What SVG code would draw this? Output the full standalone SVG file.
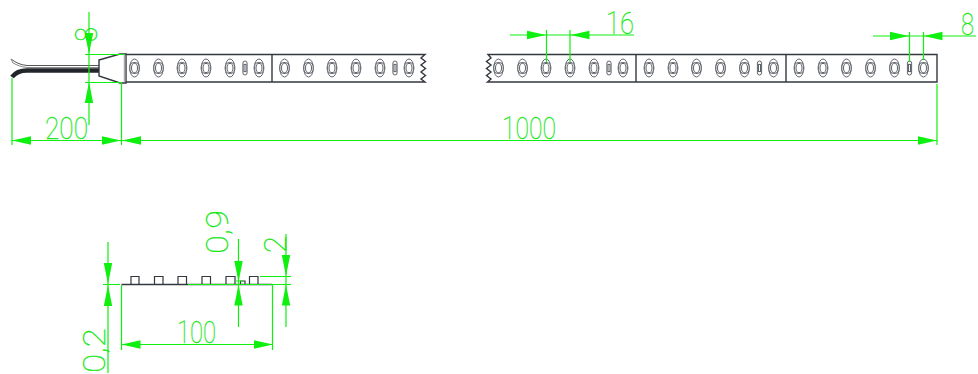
<svg xmlns="http://www.w3.org/2000/svg" xmlns:xlink="http://www.w3.org/1999/xlink" width="978" height="374" viewBox="0 0 978 374">
<style>
.s{fill:none;stroke:#33383e;stroke-width:1.4}
.l{fill:#fff;stroke:#5f646a;stroke-width:1}
.d{fill:none;stroke:#10f010;stroke-width:1.2}
.a{fill:#10f010;stroke:none}
text{font-family:"Roboto","DejaVu Sans",sans-serif;font-weight:100;fill:#10e810;stroke:#10e810;stroke-width:.3}
</style>
<defs>
<g id="led"><ellipse class="l" cx="0" cy="0" rx="4.800" ry="9"/><rect class="l" x="-4.600" y="-5.500" width="9.200" height="11" rx="3.800"/><ellipse class="l" cx="0" cy="0" rx="3" ry="4.600"/></g>
<g id="sm"><rect class="l" x="-2.100" y="-7" width="4.200" height="14" rx="2.100"/><rect class="l" x="-1" y="-3.600" width="2" height="7.200"/></g>
<g id="seg"><use xlink:href="#led" x="0"/><use xlink:href="#led" x="24"/><use xlink:href="#led" x="47.500"/><use xlink:href="#led" x="71.500"/><use xlink:href="#led" x="95.500"/><use xlink:href="#sm" x="110.500"/><use xlink:href="#led" x="124.500"/></g>
<path id="ah" class="a" d="M0 0L-19-4.200V4.200Z"/>
</defs>
<g id="cable">
<path d="M11 59C15 62 20 65 27 65.500H99" fill="none" stroke="#555" stroke-width="1"/>
<path d="M11 59L13 63C17 65 21 67 27 67.500H99" fill="none" stroke="#8a8a8a" stroke-width="1"/>
<path d="M99 70.500H27C20 70.500 15 73 12 77" fill="none" stroke="#22262b" stroke-width="4.500"/>
<path class="s" d="M99 60L120 54H126V83H120L99 76Z" style="fill:#fff"/>
<path d="M124.500 55V82" stroke="#aaa" stroke-width="1.500"/>
</g>
<g id="strip-left">
<path class="s" d="M126 54.500H425L421 58 425.500 61.500 421 65 425.500 68.500 421 72 425.500 75.500 421 79 425 82H126"/>
<path class="s" d="M272 54.500V82"/>
<use xlink:href="#seg" x="134.500" y="68"/><use xlink:href="#seg" x="284.500" y="68"/>
</g>
<g id="strip-right">
<path class="s" d="M937 54.500H488L491 58 486.500 61.500 491 65 486.500 68.500 491 72 486.500 75.500 491 79 487.500 82H937Z"/>
<path class="s" d="M636 54.500V82M786 54.500V82"/>
<use xlink:href="#seg" x="498.500" y="68"/><use xlink:href="#seg" x="649" y="68"/><use xlink:href="#seg" x="799" y="68"/>
</g>
<g id="profile">
<path class="s" d="M121.500 284.500H272"/>
<path class="s" style="stroke-width:1.200" d="M131 284V276.500H139V284M154.500 284V276.500H163V284M178 284V276.500H186.500V284M202 284V276.500H210.500V284M226 284V276.500H235V284M240.500 284V281H245V284M249.500 284V276.500H258V284"/>
</g>
<g id="connectors">
<path class="d" d="M89 12V125M85 54.500H125M85 82.500H122M12 78V145M121.500 83V145M937 84V145M12 140.500H937"/>
<path class="d" d="M510 35H634M546.500 30V62M570 30V62M873 36H976M909.500 32V62M923.500 32V60"/>
<path class="d" d="M108 242V373M103 284.500H120M238.500 239V327M235 281H243M286 234V327M260 276.500H291M272 284.500H291M121.500 285V350M272.500 285V350M121.500 344.500H273M188 284.500H272"/>
<use xlink:href="#ah" transform="translate(89 54) rotate(90) scale(1.100 1)"/>
<use xlink:href="#ah" transform="translate(89 82) rotate(-90) scale(1.100 1)"/>
<use xlink:href="#ah" transform="translate(12 140.500) rotate(180)"/>
<use xlink:href="#ah" transform="translate(121 140.500)"/>
<use xlink:href="#ah" transform="translate(122 140.500) rotate(180)"/>
<use xlink:href="#ah" transform="translate(937 140.500)"/>
<use xlink:href="#ah" transform="translate(546 35)"/>
<use xlink:href="#ah" transform="translate(570.500 35) rotate(180)"/>
<use xlink:href="#ah" transform="translate(909 36)"/>
<use xlink:href="#ah" transform="translate(923.500 36) rotate(180)"/>
<use xlink:href="#ah" transform="translate(108 284) rotate(90) scale(1.100 1)"/>
<use xlink:href="#ah" transform="translate(108 285) rotate(-90) scale(1.100 1)"/>
<use xlink:href="#ah" transform="translate(238.500 282) rotate(90) scale(1.100 1)"/>
<use xlink:href="#ah" transform="translate(238.500 284.500) rotate(-90) scale(1.100 1)"/>
<use xlink:href="#ah" transform="translate(286 276) rotate(90) scale(1.100 1)"/>
<use xlink:href="#ah" transform="translate(286 284.500) rotate(-90) scale(1.100 1)"/>
<use xlink:href="#ah" transform="translate(121.500 344.500) rotate(180)"/>
<use xlink:href="#ah" transform="translate(273 344.500)"/>
</g>
<g id="labels" font-size="31">
<text x="45" y="139" textLength="43" lengthAdjust="spacingAndGlyphs">200</text>
<text x="502" y="139" textLength="54" lengthAdjust="spacingAndGlyphs">1000</text>
<text x="606" y="34" textLength="28" lengthAdjust="spacingAndGlyphs">16</text>
<text x="961" y="35" textLength="13" lengthAdjust="spacingAndGlyphs">8</text>
<text x="177" y="343" textLength="39" lengthAdjust="spacingAndGlyphs">100</text>
<text transform="translate(97 42) rotate(-90)" font-size="31" textLength="15" lengthAdjust="spacingAndGlyphs">8</text>
<text transform="translate(228 254) rotate(-90)" textLength="44" lengthAdjust="spacingAndGlyphs">0,9</text>
<text transform="translate(286 253) rotate(-90)" textLength="17" lengthAdjust="spacingAndGlyphs">2</text>
<text transform="translate(105 373) rotate(-90)" textLength="45" lengthAdjust="spacingAndGlyphs">0,2</text>
</g>
</svg>
